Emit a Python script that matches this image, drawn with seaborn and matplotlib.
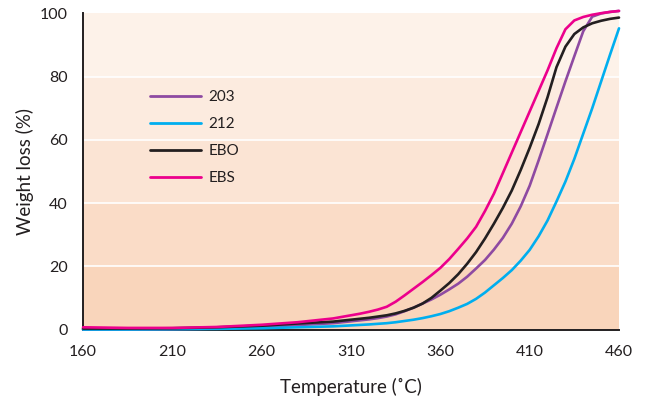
import pandas as pd
import matplotlib
matplotlib.use("Agg")
import matplotlib.pyplot as plt
import seaborn as sns

# 数据
temperature = [160, 185, 210, 235, 260, 280] + list(range(300, 465, 5))
s203 = [0.0, 0.0, 0.1, 0.3, 0.8, 1.4,
        2.0, 2.3, 2.6, 2.9, 3.2, 3.6, 4.1, 4.8, 5.8, 6.9, 8.2, 9.5, 11.0,
        12.7, 14.5, 16.7, 19.3, 22.0, 25.3, 29.0, 33.5, 39.0, 45.5, 53.5,
        61.8, 70.2, 78.5, 86.5, 94.4, 99.0, 100.0, 100.5, 100.8]
s212 = [0.0, 0.0, 0.1, 0.2, 0.4, 0.7,
        1.0, 1.15, 1.3, 1.45, 1.6, 1.8, 2.0, 2.3, 2.7, 3.1, 3.6, 4.2, 4.9,
        5.8, 6.9, 8.1, 9.7, 11.7, 14.0, 16.3, 18.8, 21.8, 25.2, 29.5, 34.5,
        40.5, 46.8, 54.0, 62.0, 70.0, 78.5, 87.0, 95.3]
ebo = [0.3, 0.3, 0.4, 0.7, 1.2, 1.9,
       2.5, 2.8, 3.1, 3.4, 3.7, 4.1, 4.5, 5.1, 5.9, 6.9, 8.2, 10.0, 12.3,
       14.7, 17.5, 20.8, 24.5, 28.8, 33.5, 38.5, 44.0, 50.5, 57.5, 65.0,
       73.5, 83.0, 89.5, 93.5, 95.6, 96.9, 97.7, 98.3, 98.7]
ebs = [0.7, 0.5, 0.5, 0.8, 1.5, 2.3,
       3.5, 4.0, 4.5, 5.0, 5.6, 6.3, 7.2, 8.8, 10.8, 12.9, 15.0, 17.2, 19.5,
       22.3, 25.5, 28.8, 32.5, 37.5, 43.0, 49.5, 56.0, 62.5, 69.0, 75.5,
       82.0, 89.0, 95.0, 97.8, 98.9, 99.6, 100.1, 100.5, 100.8]
series_names = ['203', '212', 'EBO', 'EBS']
series_colors = ['#8e4aa2', '#00aeef', '#231f20', '#ec008c']

x_ticks = [160, 210, 260, 310, 360, 410, 460]
y_ticks = [0, 20, 40, 60, 80, 100]
band_colors = ['#f9d5bb', '#fadcc7', '#fbe4d4', '#fcebdf', '#fdf2e9']

df = pd.DataFrame({'Temperature': temperature, '203': s203, '212': s212,
                   'EBO': ebo, 'EBS': ebs})
long_df = df.melt(id_vars='Temperature', var_name='Sample', value_name='Loss')

sns.set_style('white')
plt.rcParams['font.family'] = ['Lato', 'DejaVu Sans']
text_color = '#231f20'

fig = plt.figure(figsize=(6.45, 4.05), dpi=100)
ax = fig.add_axes([0.1287, 0.1864, 0.8310, 0.7803])

# 背景色带 + 白色网格线
for i, c in enumerate(band_colors):
    ax.axhspan(y_ticks[i], y_ticks[i + 1], color=c, lw=0, zorder=0)
for y in y_ticks[1:-1]:
    ax.axhline(y, color='white', lw=1.2, zorder=1)

sns.lineplot(data=long_df, x='Temperature', y='Loss', hue='Sample',
             hue_order=series_names, palette=series_colors, linewidth=1.9,
             ax=ax, legend=False, zorder=3, clip_on=False)

ax.set_xlim(160, 460)
ax.set_ylim(0, 100)
ax.set_xticks(x_ticks)
ax.set_yticks(y_ticks)
ax.tick_params(axis='both', direction='out', length=7, width=1.3,
               colors=text_color, labelsize=11.5, pad=4)
for side in ['top', 'right']:
    ax.spines[side].set_visible(False)
for side in ['left', 'bottom']:
    ax.spines[side].set_color(text_color)
    ax.spines[side].set_linewidth(1.4)

ax.set_xlabel('Temperature (˚C)', fontsize=13.5, color=text_color, labelpad=14)
ax.set_ylabel('Weight loss (%)', fontsize=13.5, color=text_color, labelpad=4)

# 图例
handles = [plt.Line2D([], [], color=c, lw=2) for c in series_colors]
leg = ax.legend(handles, series_names, loc='upper left',
                bbox_to_anchor=(0.10, 0.80), frameon=False, fontsize=11,
                handlelength=3.3, handletextpad=0.5, labelspacing=0.85)
for t in leg.get_texts():
    t.set_color(text_color)

fig.savefig('out.png', dpi=100)
